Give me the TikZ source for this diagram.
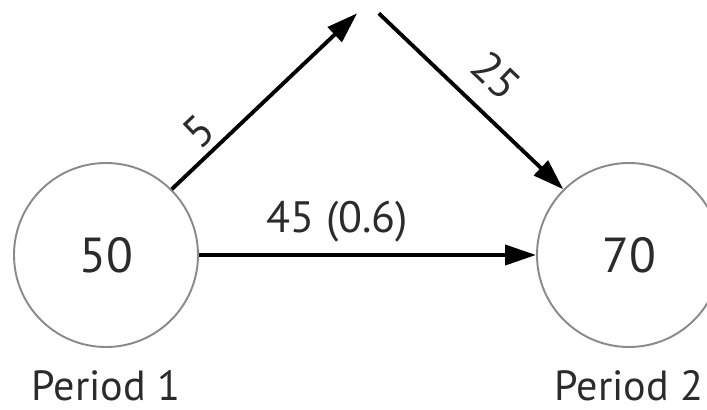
\documentclass[tikz,border=0pt]{standalone}
\usepackage{fontspec}
\setmainfont{PT Sans}
\usepackage{tikz}
\usetikzlibrary{arrows.meta, positioning}
\definecolor{ringgray}{HTML}{8A8A8A}
\definecolor{inkgray}{HTML}{2B2B2B}
\tikzset{
    period/.style={circle, draw=ringgray, line width=1.1pt, minimum size=3.68cm, inner sep=0pt, text=inkgray, font=\fontsize{28}{32}\selectfont},
    caption/.style={text=inkgray, font=\fontsize{24}{28}\selectfont, inner sep=0pt},
    flow/.style={-{Triangle[length=0.62cm, width=0.4cm]}, line width=2.2pt, draw=black},
    amount/.style={text=inkgray, font=\fontsize{25}{28}\selectfont}
}

\begin{document}
\begin{tikzpicture}
    \useasboundingbox (0,0) rectangle (14.14,-8.2);

    \node[period] (p1) at (2.12,-5.10) {50};
    \node[period] (p2) at (12.58,-5.10) {70};
    \coordinate (apex) at (7.36,-0.06);

    \node[caption, below=0.45cm of p1] (cap1) {Period 1};
    \node[caption, below=0.45cm of p2] (cap2) {Period 2};

    \draw[flow, shorten >=0.3cm] (p1.north east) -- node[amount, sloped, above, pos=0.22] {5} (apex);
    \draw[flow, shorten <=0.3cm] (apex) -- node[amount, sloped, above=0.25cm, pos=0.53] {25} (p2.north west);
    \draw[flow] (p1.east) -- node[amount, above=0.1cm, pos=0.41] {45 (0.6)} (p2.west);
\end{tikzpicture}
\end{document}
